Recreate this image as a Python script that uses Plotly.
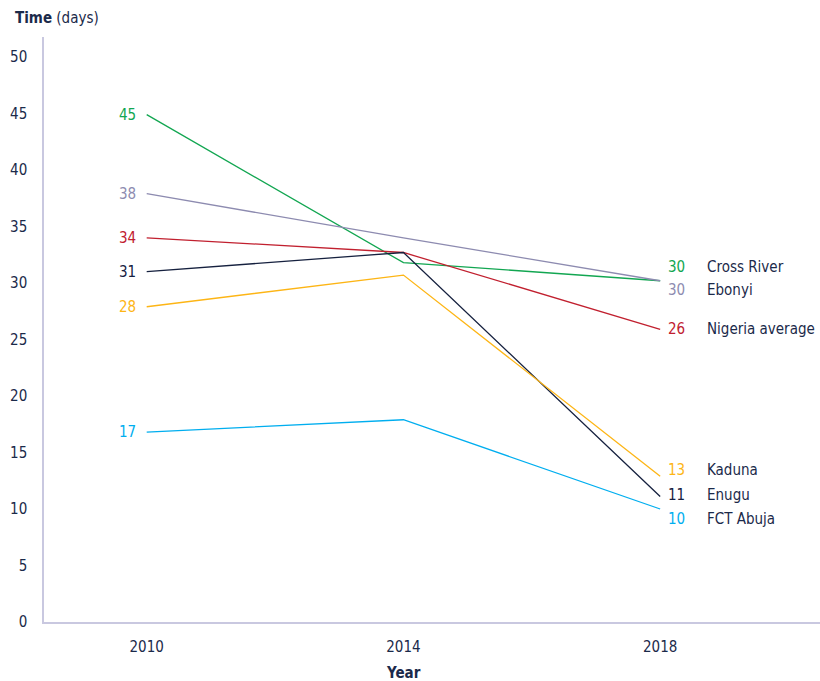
import plotly.graph_objects as go

years = [2010, 2014, 2018]
series_names = ["Cross River", "Ebonyi", "Nigeria average", "Enugu", "Kaduna", "FCT Abuja"]
cross_river = [44.9, 31.8, 30.2]
ebonyi = [37.9, 34.0, 30.2]
nigeria_average = [34.0, 32.7, 25.9]
enugu = [31.0, 32.7, 11.1]
kaduna = [27.9, 30.7, 12.9]
fct_abuja = [16.8, 17.9, 10.0]
start_labels = ["45", "38", "34", "31", "28", "17"]
end_labels = ["30", "30", "26", "11", "13", "10"]
y_ticks = [0, 5, 10, 15, 20, 25, 30, 35, 40, 45, 50]

colors = ["#12a651", "#8d8bb0", "#c1202f", "#16213f", "#fdb515", "#00aeef"]
end_label_shift = [14, -9, 0, 2, 6, -10]

all_values = [cross_river, ebonyi, nigeria_average, enugu, kaduna, fct_abuja]

FONT = "DejaVu Sans Condensed, Roboto, sans-serif"
NAVY = "#1b2a4a"
FS = 15

fig = go.Figure()
annotations = []
for name, vals, col, sl, el, sh in zip(series_names, all_values, colors, start_labels, end_labels, end_label_shift):
    fig.add_trace(go.Scatter(x=years, y=vals, mode="lines", name=name,
                             line=dict(color=col, width=1.3), showlegend=False,
                             hoverinfo="skip"))
    annotations.append(dict(x=years[0], y=vals[0], text=sl, showarrow=False,
                            xanchor="right", yanchor="middle", xshift=-9,
                            font=dict(family=FONT, size=FS, color=col)))
    annotations.append(dict(x=years[-1], y=vals[-1], text=el, showarrow=False,
                            xanchor="left", yanchor="middle", xshift=6, yshift=sh,
                            font=dict(family=FONT, size=FS, color=col)))
    annotations.append(dict(x=years[-1], y=vals[-1], text=name, showarrow=False,
                            xanchor="left", yanchor="middle", xshift=45, yshift=sh,
                            font=dict(family=FONT, size=FS, color=NAVY)))

annotations.append(dict(xref="paper", yref="paper", x=0, y=1, xshift=-31, yshift=8,
                        text="<b>Time</b> (days)", showarrow=False,
                        xanchor="left", yanchor="bottom",
                        font=dict(family=FONT, size=FS, color=NAVY)))
annotations.append(dict(xref="x", yref="paper", x=2014, y=0, yshift=-40,
                        text="<b>Year</b>", showarrow=False,
                        xanchor="center", yanchor="top",
                        font=dict(family=FONT, size=FS, color=NAVY)))

fig.update_layout(
    width=820, height=681,
    margin=dict(l=44, r=0, t=37, b=59),
    plot_bgcolor="white", paper_bgcolor="white",
    annotations=annotations,
    font=dict(family=FONT, size=FS, color=NAVY),
    xaxis=dict(range=[2008.4, 2020.49], tickvals=years, ticktext=[str(y) for y in years],
               showgrid=False, zeroline=False, showline=True, linecolor="#c9c8e0",
               linewidth=1.5, ticks="", ticklabelstandoff=10, automargin=False),
    yaxis=dict(range=[0, 51.77], tickvals=y_ticks, showgrid=False, zeroline=False,
               showline=True, linecolor="#c9c8e0", linewidth=1.5, ticks="",
               ticklabelstandoff=12, automargin=False),
)

fig.write_html("out.html", config={"displayModeBar": False},
               post_script="document.body.style.margin='0px';document.documentElement.style.overflow='hidden';")
